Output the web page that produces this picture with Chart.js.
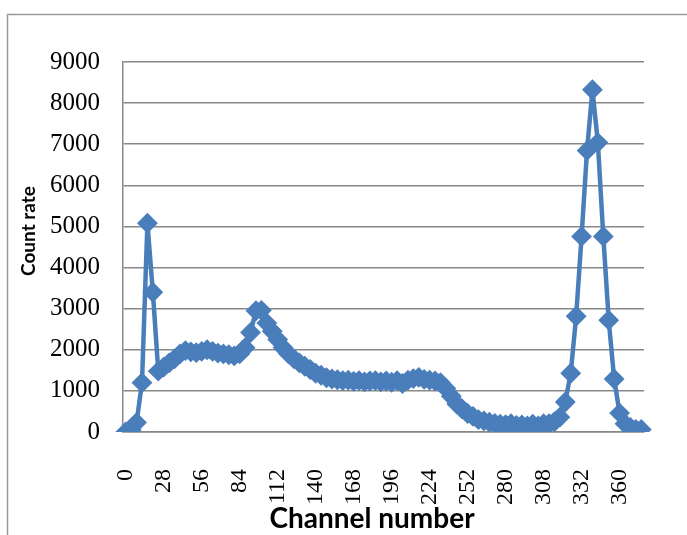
<!DOCTYPE html>
<html>
<head>
<meta charset="utf-8">
<script src="https://cdn.jsdelivr.net/npm/chart.js@4"></script>
<style>
  html, body { margin: 0; padding: 0; background: #fff; }
  #wrap { width: 687px; height: 535px; }
</style>
</head>
<body>
<div id="wrap"><canvas id="spectrum" width="687" height="535"></canvas></div>
<script>

// channel numbers (category labels), one per point
const CHANNELS = [
  0, 4, 8, 12, 16, 20, 24, 28, 32, 36,
  40, 44, 48, 52, 56, 60, 64, 68, 72, 76,
  80, 84, 88, 92, 96, 100, 104, 108, 112, 116,
  120, 124, 128, 132, 136, 140, 144, 148, 152, 156,
  160, 164, 168, 172, 176, 180, 184, 188, 192, 196,
  200, 204, 208, 212, 216, 220, 224, 228, 232, 236,
  240, 244, 248, 252, 256, 260, 264, 268, 272, 276,
  280, 284, 288, 292, 296, 300, 304, 308, 312, 315,
  318, 322, 325, 329, 332, 336, 340, 344, 348, 352,
  356, 360, 364, 368, 372, 376
];

// count rate
const COUNT_RATE = [
  0, 50, 230, 1200, 5080, 3400, 1480, 1580, 1680, 1780,
  1900, 1980, 1950, 1930, 1960, 2000, 1960, 1920, 1900, 1880,
  1850, 1900, 2050, 2420, 2950, 2960, 2650, 2450, 2250, 2050,
  1900, 1780, 1680, 1600, 1520, 1430, 1380, 1320, 1290, 1270,
  1250, 1260, 1230, 1250, 1220, 1240, 1250, 1220, 1240, 1210,
  1250, 1180, 1260, 1300, 1330, 1280, 1260, 1240, 1200, 1060,
  870, 680, 560, 450, 380, 300, 270, 240, 210, 190,
  180, 200, 160, 170, 150, 190, 150, 200, 200, 250,
  360, 730, 1430, 2815, 4757, 6845, 8325, 7040, 4757, 2720,
  1290, 460, 200, 110, 60, 60
];

const Y_MIN = 0;
const Y_MAX = 9000;
const Y_STEP = 1000;
const LABEL_EVERY = 7;

const X_TITLE = 'Channel number';
const Y_TITLE = 'Count rate';

const LINE_BLUE = '#4a7ebb';
const GRID_GREY = '#888888';

// outer chart border and the two axis titles
const frame = {
  id: 'frame',
  beforeDraw(chart) {
    const ctx = chart.ctx;
    ctx.save();
    ctx.strokeStyle = '#9a9a9a';
    ctx.lineWidth = 1.5;
    ctx.strokeRect(7.5, 14.5, 700, 600);
    ctx.restore();
  },
  afterDraw(chart) {
    const ctx = chart.ctx;
    ctx.save();
    ctx.fillStyle = '#000';
    ctx.font = 'bold 28px Lato, "Liberation Sans", sans-serif';
    ctx.textAlign = 'center';
    ctx.textBaseline = 'alphabetic';
    ctx.fillText(X_TITLE, 372, 528);

    ctx.translate(35, 231);
    ctx.rotate(-Math.PI / 2);
    ctx.font = 'bold 19px Lato, "Liberation Sans", sans-serif';
    ctx.fillText(Y_TITLE, 0, 0);
    ctx.restore();
  }
};

new Chart(document.getElementById('spectrum').getContext('2d'), {
  type: 'line',
  data: {
    labels: CHANNELS,
    datasets: [{
      data: COUNT_RATE,
      borderColor: LINE_BLUE,
      backgroundColor: LINE_BLUE,
      borderWidth: 4.5,
      pointStyle: 'rectRot',
      pointRadius: 9,
      pointBorderWidth: 2,
      pointBackgroundColor: LINE_BLUE,
      pointBorderColor: LINE_BLUE,
      tension: 0,
      fill: false
    }]
  },
  options: {
    responsive: false,
    animation: false,
    devicePixelRatio: 1,
    layout: { padding: { left: 0, top: 62, right: 43, bottom: 0 } },
    plugins: {
      legend: { display: false },
      tooltip: { enabled: false }
    },
    scales: {
      x: {
        offset: true,
        grid: { display: false },
        border: { display: true, color: GRID_GREY, width: 1.5 },
        afterFit(scale) {
          scale.height = 103;
          scale.paddingLeft = 0;
          scale.paddingRight = 0;
        },
        ticks: {
          autoSkip: false,
          minRotation: 90,
          maxRotation: 90,
          padding: 29,
          color: '#000',
          font: { family: '"Liberation Serif", serif', size: 24 },
          callback(value, index) {
            return index % LABEL_EVERY === 0 ? this.getLabelForValue(value) : '';
          }
        }
      },
      y: {
        min: Y_MIN,
        max: Y_MAX,
        grid: { color: GRID_GREY, lineWidth: 1.5, drawTicks: false },
        border: { display: true, color: GRID_GREY, width: 1.5 },
        afterFit(scale) { scale.width = 123; },
        ticks: {
          stepSize: Y_STEP,
          padding: 23,
          color: '#000',
          font: { family: '"Liberation Serif", serif', size: 25 },
          callback: value => String(value)
        }
      }
    }
  },
  plugins: [frame]
});
</script>
</body>
</html>
